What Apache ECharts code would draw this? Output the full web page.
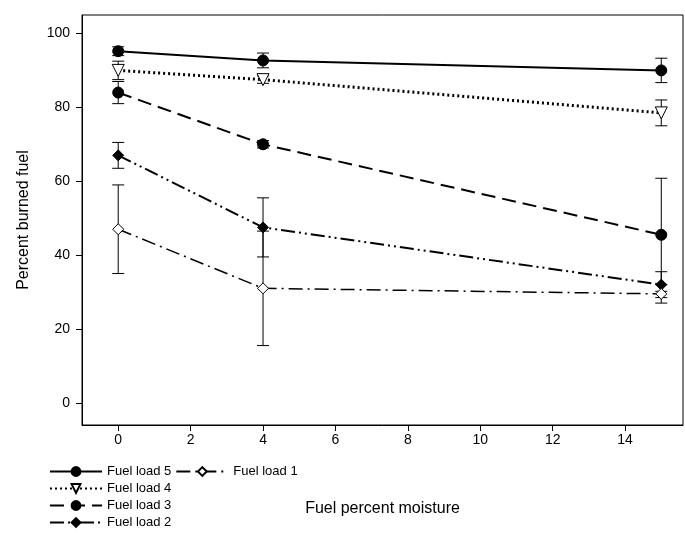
<!DOCTYPE html>
<html><head><meta charset="utf-8">
<script src="https://cdn.jsdelivr.net/npm/echarts@6/dist/echarts.min.js"></script>
<style>html,body{margin:0;background:#fff}#chart{width:685px;height:543px}</style>
</head><body><div id="chart"></div>
<script>
var moisture = [0, 4, 15];
var names = ['Fuel load 5', 'Fuel load 4', 'Fuel load 3', 'Fuel load 2', 'Fuel load 1'];
var load5 = [95.2, 92.7, 90.0], err5 = [1.2, 2.0, 3.3];
var load4 = [90.0, 87.5, 78.5], err4 = [2.5, 1.0, 3.5];
var load3 = [84.0, 70.0, 45.5], err3 = [3.0, 1.0, 15.3];
var load2 = [67.0, 47.5, 32.0], err2 = [3.5, 8.0, 3.5];
var load1 = [47.0, 31.0, 29.5], err1 = [12.0, 15.5, 2.5];
var yTicks = [0, 20, 40, 60, 80, 100];
var xTicks = [0, 2, 4, 6, 8, 10, 12, 14];

var values = [load5, load4, load3, load2, load1];
var errs = [err5, err4, err3, err2, err1];
var symbols = ['circle', 'triangle', 'circle', 'diamond', 'diamond'];
var fills = ['#000', '#fff', '#000', '#000', '#fff'];
var dashes = ['solid', [2, 3], [14, 7], [14, 4, 2, 4, 2, 4], [14, 5, 2, 5]];
var widths = [2, 3, 2, 2, 1.5];

var series = [];
values.forEach(function (v, i) {
  series.push({
    type: 'custom', silent: true, z: 1,
    data: moisture.map(function (x, j) { return [x, v[j] - errs[i][j], v[j] + errs[i][j]]; }),
    renderItem: function (params, api) {
      var lo = api.coord([api.value(0), api.value(1)]);
      var hi = api.coord([api.value(0), api.value(2)]);
      var s = { stroke: '#000', lineWidth: 1 };
      return { type: 'group', children: [
        { type: 'line', shape: { x1: lo[0], y1: lo[1], x2: hi[0], y2: hi[1] }, style: s },
        { type: 'line', shape: { x1: lo[0] - 6, y1: lo[1], x2: lo[0] + 6, y2: lo[1] }, style: s },
        { type: 'line', shape: { x1: hi[0] - 6, y1: hi[1], x2: hi[0] + 6, y2: hi[1] }, style: s }
      ]};
    }
  });
  series.push({
    name: names[i], type: 'line', z: 3,
    data: moisture.map(function (x, j) { return [x, v[j]]; }),
    symbol: symbols[i], symbolSize: i === 1 ? 12 : 11,
    symbolRotate: i === 1 ? 180 : 0,
    itemStyle: { color: fills[i], borderColor: '#000', borderWidth: 1 },
    lineStyle: { color: '#000', width: widths[i], type: dashes[i] }
  });
});

var chart = echarts.init(document.getElementById('chart'));
chart.setOption({
  animation: false,
  grid: { left: 82, right: 2, top: 15, bottom: 118 },
  xAxis: {
    type: 'value', min: -1, max: 15.6, interval: 1,
    name: 'Fuel percent moisture', nameLocation: 'middle', nameGap: 76,
    nameTextStyle: { fontFamily: 'Liberation Sans', fontSize: 16, color: '#000' },
    axisLine: { onZero: false, lineStyle: { color: '#000' } },
    axisTick: { inside: false, length: 6, lineStyle: { color: '#000' },
      customValues: xTicks },
    axisLabel: { customValues: xTicks, fontFamily: 'Liberation Sans', fontSize: 14, color: '#000', margin: 8 },
    splitLine: { show: false }
  },
  yAxis: {
    type: 'value', min: -6, max: 105,
    name: 'Percent burned fuel', nameLocation: 'middle', nameGap: 50,
    nameTextStyle: { fontFamily: 'Liberation Sans', fontSize: 16, color: '#000' },
    axisLine: { show: true, onZero: false, lineStyle: { color: '#000' } },
    axisTick: { show: true, length: 6, customValues: yTicks, lineStyle: { color: '#000' } },
    axisLabel: { customValues: yTicks, fontFamily: 'Liberation Sans', fontSize: 14, color: '#000', margin: 12 },
    splitLine: { show: false }
  },
  graphic: [{ type: 'rect', shape: { x: 82, y: 15, width: 601, height: 410 },
    style: { fill: 'none', stroke: '#000', lineWidth: 1 }, silent: true }],
  legend: {
    orient: 'vertical', left: 44, top: 460, itemGap: 4,
    itemWidth: 52, itemHeight: 11,
    textStyle: { fontFamily: 'Liberation Sans', fontSize: 13, color: '#000' },
    data: names
  },
  series: series
});
</script></body></html>
